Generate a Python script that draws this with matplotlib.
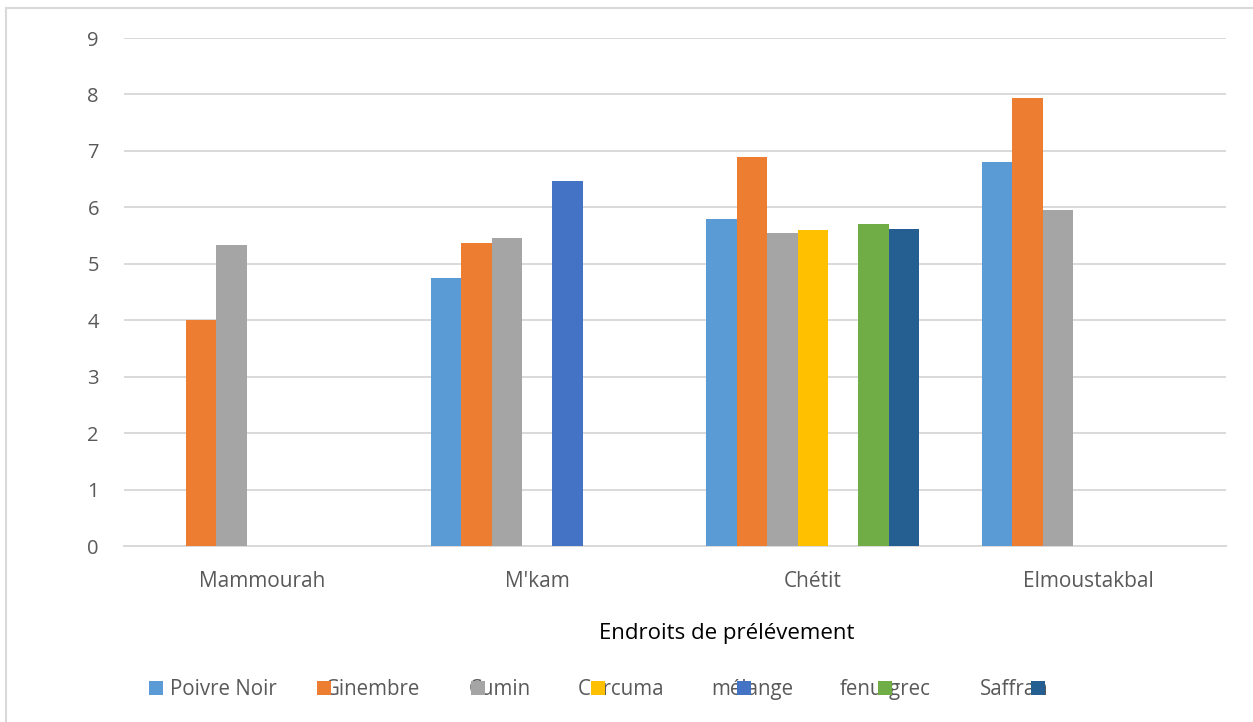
import numpy as np
import matplotlib.pyplot as plt
from matplotlib.lines import Line2D
from matplotlib.patches import Rectangle

plt.rcParams['font.family'] = ['Open Sans', 'DejaVu Sans']

categories = ['Mammourah', "M'kam", 'Chétit', 'Elmoustakbal']
series = ['Poivre Noir', 'Ginembre', 'Cumin', 'Curcuma', 'mélange', 'fenu-grec', 'Saffran']

# values (nan = no bar)
poivre_noir = [np.nan, 4.74, 5.80, 6.81]
ginembre = [4.01, 5.37, 6.89, 7.94]
cumin = [5.34, 5.45, 5.54, 5.95]
curcuma = [np.nan, np.nan, 5.60, np.nan]
melange = [np.nan, 6.46, np.nan, np.nan]
fenu_grec = [np.nan, np.nan, 5.71, np.nan]
saffran = [np.nan, np.nan, 5.62, np.nan]
values = [poivre_noir, ginembre, cumin, curcuma, melange, fenu_grec, saffran]

colors = ['#5B9BD5', '#ED7D31', '#A5A5A5', '#FFC000', '#4472C4', '#70AD47', '#255E91']
yticks = list(range(0, 10))

W, H = 1253, 722
fig = plt.figure(figsize=(W / 100, H / 100), dpi=100)
ax = fig.add_axes([124 / W, 1 - 546 / H, (1226 - 124) / W, (546 - 38) / H])

x = np.arange(len(categories))
bw = 0.1107
for i, (vals, c) in enumerate(zip(values, colors)):
    ax.bar(x + (i - 3) * bw, vals, width=bw, color=c, zorder=3, label=series[i])

ax.set_xlim(-0.5, len(categories) - 0.5)
ax.set_ylim(0, 9)
ax.set_yticks(yticks)
ax.set_xticks(x)
ax.set_xticklabels(categories)
ax.yaxis.grid(True, color='#D9D9D9', linewidth=1.4, zorder=0)
ax.set_axisbelow(True)
for s in ['top', 'right', 'left']:
    ax.spines[s].set_visible(False)
ax.spines['bottom'].set_color('#D9D9D9')
ax.spines['bottom'].set_linewidth(1.4)
ax.tick_params(axis='x', length=0, pad=18, labelsize=15, labelcolor='#595959')
ax.tick_params(axis='y', length=0, pad=18, labelsize=14.5, labelcolor='#595959')

fig.text(727 / W, 1 - 633 / H, 'Endroits de prélévement', ha='center', va='center',
         fontsize=16, color='#000000')

# legend drawn by hand to keep the overlapping look of the original
marker_left = [149, 317, 471, 591, 737, 878, 1031]
text_left = [170, 325, 469, 578, 711, 840, 980]
for name, c, mx, tx in zip(series, colors, marker_left, text_left):
    fig.text(tx / W, 1 - 695 / H, name, ha='left', va='baseline', fontsize=14.8, color='#595959')
    fig.patches.append(Rectangle((mx / W, 1 - 695 / H), 14 / W, 14 / H, transform=fig.transFigure,
                                 facecolor=c, edgecolor='none', zorder=5))

# chart area border (top and left visible)
fig.lines.append(Line2D([6 / W, 1], [1 - 8 / H, 1 - 8 / H], transform=fig.transFigure,
                        color='#D9D9D9', linewidth=1.5))
fig.lines.append(Line2D([6 / W, 6 / W], [0, 1 - 8 / H], transform=fig.transFigure,
                        color='#D9D9D9', linewidth=1.5))

fig.savefig('out.png', dpi=100)
